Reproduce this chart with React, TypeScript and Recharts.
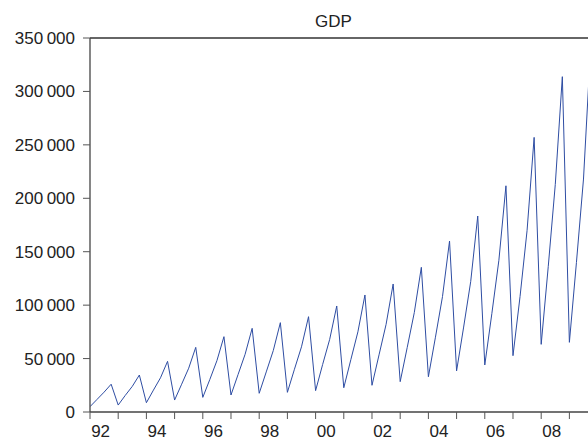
import React from 'react';
import { LineChart, Line, XAxis, YAxis, ReferenceLine } from 'recharts';

// cumulative quarterly GDP, one entry per year
const years = [1992, 1993, 1994, 1995, 1996, 1997, 1998, 1999, 2000, 2001, 2002, 2003, 2004, 2005, 2006, 2007, 2008, 2009];
const q1 = [5000, 6500, 8700, 11200, 13700, 15900, 17500, 18400, 20000, 22700, 25000, 28400, 33000, 38500, 44000, 52700, 63300, 65200];
const q2 = [11800, 15500, 20500, 26000, 30500, 35000, 37500, 40000, 44500, 49000, 53500, 60500, 70000, 79500, 92000, 108000, 136000, 140000];
const q3 = [18600, 24000, 32000, 41000, 48000, 54000, 57500, 61000, 68000, 75000, 82000, 93000, 108000, 122000, 142000, 170000, 213000, 218000];
const q4 = [26000, 34600, 47400, 60500, 70500, 78300, 83600, 89200, 99200, 109500, 119800, 135400, 160000, 183400, 211700, 257000, 313800, 340000];

const yTicks = [0, 50000, 100000, 150000, 200000, 250000, 300000, 350000];
const xTicks = years.map((_, i) => i * 4);

const data = years.flatMap((y, i) =>
  [q1[i], q2[i], q3[i], q4[i]].map((v, k) => ({ t: i * 4 + k, gdp: v }))
);

const fmtY = (v: number) => {
  if (v === 0) return '0';
  const s = String(v);
  return s.slice(0, s.length - 3) + '\u2009' + s.slice(-3);
};

const FONT = '"Liberation Sans", Arial, sans-serif';

const XTick = (props: any) => {
  const { x, y, payload } = props;
  const year = years[0] + payload.value / 4;
  if (year % 2 !== 0) return null;
  return (
    <text x={x + 10.6} y={y} dy="0.71em" textAnchor="middle" fontSize={17} fontFamily={FONT} fill="#222">
      {String(year).slice(2)}
    </text>
  );
};

export default function App() {
  return (
    <div style={{ position: 'absolute', left: 0, top: 0, width: 588, height: 443, background: '#fff' }}>
      <div
        style={{
          position: 'absolute',
          left: 0,
          top: 12.6,
          width: 667,
          textAlign: 'center',
          fontFamily: FONT,
          fontSize: 17,
          lineHeight: '17px',
          color: '#222',
        }}
      >
        GDP
      </div>
      <LineChart width={588} height={443} data={data} margin={{ top: 38, right: 0, left: 0, bottom: 0 }}>
        <XAxis
          dataKey="t"
          type="number"
          domain={[0, 70.64]}
          allowDataOverflow
          ticks={xTicks}
          interval={0}
          height={31}
          tickSize={7}
          tickMargin={6}
          tick={<XTick />}
          stroke="#444"
          strokeWidth={1.3}
          tickLine={{ stroke: '#555', strokeWidth: 1 }}
        />
        <YAxis
          type="number"
          domain={[0, 350000]}
          ticks={yTicks}
          interval={0}
          width={90}
          tickSize={7}
          tickMargin={8}
          tickFormatter={fmtY}
          tick={{ fontSize: 17, fontFamily: FONT, fill: '#222' }}
          stroke="#444"
          strokeWidth={1.3}
          tickLine={{ stroke: '#555', strokeWidth: 1 }}
        />
        <ReferenceLine y={350000} stroke="#333" strokeWidth={1.3} />
        <Line
          type="linear"
          dataKey="gdp"
          stroke="#2e4da3"
          strokeWidth={1}
          dot={false}
          activeDot={false}
          isAnimationActive={false}
        />
      </LineChart>
    </div>
  );
}
